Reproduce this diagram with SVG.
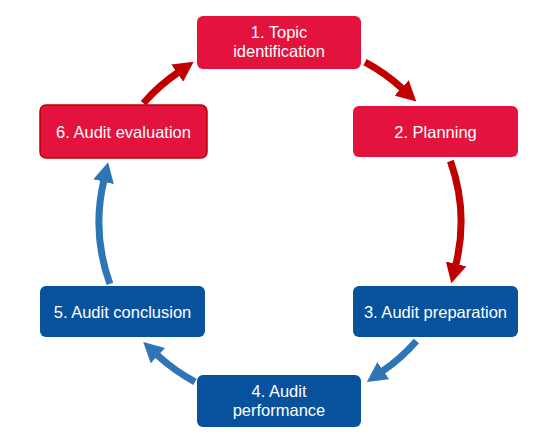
<svg xmlns="http://www.w3.org/2000/svg" width="560" height="448" viewBox="0 0 560 448">
<style>
.red{fill:#E3133D}
.blue{fill:#08519C}
.lbl{font-family:"Liberation Sans",Arial,sans-serif;font-size:16.5px;fill:#FFFFFF;text-anchor:middle}
.ra{fill:none;stroke:#C00000;stroke-width:7}
.ba{fill:none;stroke:#2E75B6;stroke-width:7}
</style>
<defs>
<marker id="mr" viewBox="0 0 20 21" refX="1" refY="10.5" markerWidth="20" markerHeight="21" markerUnits="userSpaceOnUse" orient="auto"><path d="M0,0 L20,10.5 L0,21 Z" fill="#C00000"/></marker>
<marker id="mb" viewBox="0 0 20 21" refX="1" refY="10.5" markerWidth="20" markerHeight="21" markerUnits="userSpaceOnUse" orient="auto"><path d="M0,0 L20,10.5 L0,21 Z" fill="#2E75B6"/></marker>
</defs>
<rect width="560" height="448" fill="#FFFFFF"/>
<g id="connectors">
<path class="ra" d="M143.4,103.2 A181,181 0 0 1 178.0,72.5" marker-end="url(#mr)"/>
<path class="ra" d="M365.0,62.2 A181,181 0 0 1 402.3,88.6" marker-end="url(#mr)"/>
<path class="ra" d="M450.4,161.0 A181,181 0 0 1 455.8,264.9" marker-end="url(#mr)"/>
<path class="ba" d="M416.4,341.0 A181,181 0 0 1 382.5,371.2" marker-end="url(#mb)"/>
<path class="ba" d="M195.0,381.8 A181,181 0 0 1 157.2,355.0" marker-end="url(#mb)"/>
<path class="ba" d="M109.9,283.9 A181,181 0 0 1 103.8,180.7" marker-end="url(#mb)"/>
</g>
<g id="node1">
<rect class="red" x="197" y="16" width="164" height="53" rx="6"/>
<text class="lbl" x="279" y="38">1. Topic</text>
<text class="lbl" x="279" y="57">identification</text>
</g>
<g id="node2">
<rect class="red" x="353" y="106" width="165" height="51" rx="6"/>
<text class="lbl" x="435.5" y="138">2. Planning</text>
</g>
<g id="node3">
<rect class="blue" x="353" y="286" width="165" height="51" rx="6"/>
<text class="lbl" x="435.5" y="317.5">3. Audit preparation</text>
</g>
<g id="node4">
<rect class="blue" x="197" y="375" width="164" height="52" rx="6"/>
<text class="lbl" x="279" y="397">4. Audit</text>
<text class="lbl" x="279" y="416">performance</text>
</g>
<g id="node5">
<rect class="blue" x="40" y="286" width="165" height="51" rx="6"/>
<text class="lbl" x="122.5" y="317.5">5. Audit conclusion</text>
</g>
<g id="node6">
<rect class="red" x="40" y="105" width="167" height="53" rx="6" stroke="#C00000" stroke-width="1.5"/>
<text class="lbl" x="123.5" y="138">6. Audit evaluation</text>
</g>
</svg>
